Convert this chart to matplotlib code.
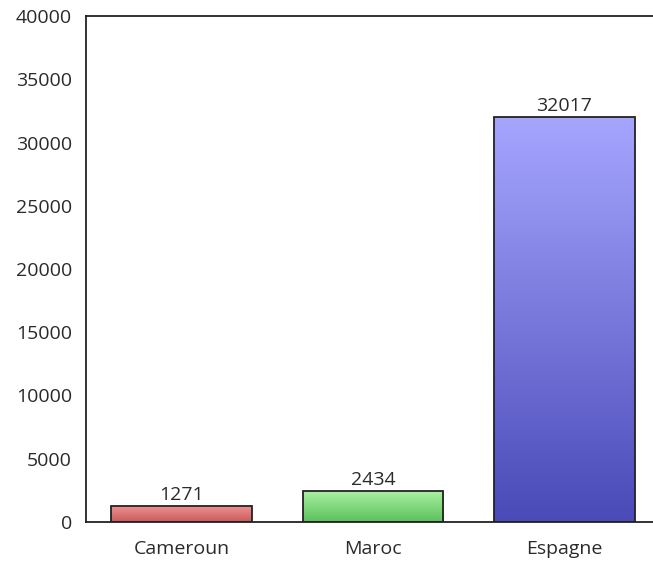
import numpy as np
import matplotlib
matplotlib.use('Agg')
import matplotlib.pyplot as plt
from matplotlib.colors import LinearSegmentedColormap

#data
pays = ['Cameroun', 'Maroc', 'Espagne']
valeurs = [1271, 2434, 32017]
y_ticks = [0, 5000, 10000, 15000, 20000, 25000, 30000, 35000, 40000]

#top / bottom colours of each bar gradient
couleurs = [('#f29393', '#c85a5a'), ('#a8f0a0', '#5cc05c'), ('#a6a6ff', '#4a4ab8')]

plt.rcParams['font.family'] = ['Open Sans', 'DejaVu Sans']

fig = plt.figure(figsize=(6.53, 5.61), dpi=100)
ax = fig.add_axes([86/653, 39/561, 574/653, 506/561])

bars = ax.bar(range(len(pays)), valeurs, width=0.736, color='none',
              edgecolor='#222222', linewidth=1.3, zorder=3)

#gradient fill clipped to each bar
for b, (top, bot) in zip(bars, couleurs):
    cmap = LinearSegmentedColormap.from_list('g', [bot, top])
    x0, y0 = b.get_x(), b.get_y()
    grad = np.linspace(0, 1, 256).reshape(-1, 1)
    im = ax.imshow(grad, cmap=cmap, origin='lower', aspect='auto',
                   extent=[x0, x0 + b.get_width(), y0, y0 + b.get_height()], zorder=2)
    im.set_clip_path(b)

for i, v in enumerate(valeurs):
    ax.text(i, v + 150, str(v), ha='center', va='bottom', fontsize=14, color='#2a2a2a')

ax.set_xlim(-0.5, 2.5)
ax.set_ylim(0, 40000)
ax.set_yticks(y_ticks)
ax.set_yticklabels([str(t) for t in y_ticks])
ax.set_xticks(range(len(pays)))
ax.set_xticklabels(pays)
ax.tick_params(length=0, labelsize=14, labelcolor='#2a2a2a')
ax.tick_params(axis='y', pad=10)
ax.tick_params(axis='x', pad=13)
ax.spines['right'].set_visible(False)
for s in ['left', 'top', 'bottom']:
    ax.spines[s].set_color('#222222')
    ax.spines[s].set_linewidth(1.3)

plt.savefig('out.png', dpi=100)
